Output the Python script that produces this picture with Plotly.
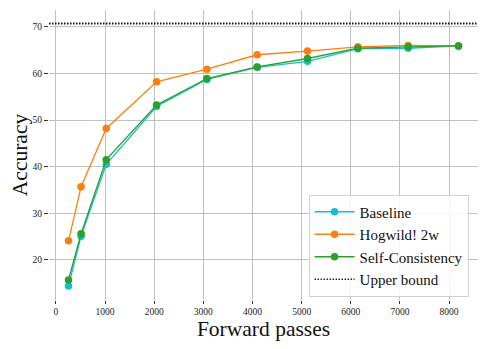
import plotly.graph_objects as go

# data
passes = [256, 512, 1024, 2048, 3072, 4096, 5120, 6144, 7168, 8192]
baseline = [14.4, 25.1, 40.5, 52.9, 58.7, 61.3, 62.6, 65.3, 65.4, 65.9]
hogwild = [24.1, 35.7, 48.2, 58.2, 60.9, 64.0, 64.8, 65.7, 66.0, 65.9]
self_consistency = [15.7, 25.6, 41.5, 53.2, 58.9, 61.4, 63.2, 65.4, 65.7, 65.9]
upper_bound = 70.7

series = [
    ("Baseline", baseline, "#17becf"),
    ("Hogwild! 2w", hogwild, "#ff7f0e"),
    ("Self-Consistency", self_consistency, "#2ca02c"),
]

FONT = "Liberation Serif, Times New Roman, serif"
DOTS = "1.5px,1.5px"

fig = go.Figure()
for name, vals, color in series:
    fig.add_trace(go.Scatter(
        x=passes, y=vals, name=name, mode="lines+markers",
        line=dict(color=color, width=1.3),
        marker=dict(color=color, size=7.5),
    ))

fig.add_hline(y=upper_bound, line=dict(color="#111", width=2, dash=DOTS))
# legend entry for the dotted line
fig.add_trace(go.Scatter(
    x=[None], y=[None], name="Upper bound", mode="lines",
    line=dict(color="#222", width=1.5, dash=DOTS),
))

# page body has an 8px margin, so the figure is a bit smaller than the window
fig.update_layout(
    width=480, height=341,
    margin=dict(l=41, r=10, t=2, b=49),
    paper_bgcolor="white", plot_bgcolor="white",
    font=dict(family=FONT, color="#222"),
    showlegend=True,
    legend=dict(
        x=0.978, y=0.012, xanchor="right", yanchor="bottom",
        bgcolor="rgba(255,255,255,0.85)", bordercolor="#d0d0d0", borderwidth=1,
        font=dict(family=FONT, size=15, color="#111"),
        itemwidth=40, tracegroupgap=0,
    ),
)
fig.update_xaxes(
    range=[-141, 8589], tickmode="array", tickvals=list(range(0, 8001, 1000)),
    showgrid=True, gridcolor="#c0c0c0", gridwidth=1, zeroline=False,
    ticks="outside", ticklen=3, tickcolor="#333",
    tickfont=dict(size=9.5, family=FONT, color="#222"),
    title=dict(text="Forward passes", font=dict(size=21.5, family=FONT, color="#111"), standoff=4),
    showline=False, automargin=False,
)
fig.update_yaxes(
    range=[11.4, 73.6], tickmode="array", tickvals=[20, 30, 40, 50, 60, 70],
    showgrid=True, gridcolor="#c0c0c0", gridwidth=1, zeroline=False,
    ticks="outside", ticklen=4, tickcolor="#333",
    tickfont=dict(size=9.5, family=FONT, color="#222"),
    title=dict(text="Accuracy", font=dict(size=21.5, family=FONT, color="#111"), standoff=4),
    showline=False, automargin=False,
)

fig.write_html("out.html")
